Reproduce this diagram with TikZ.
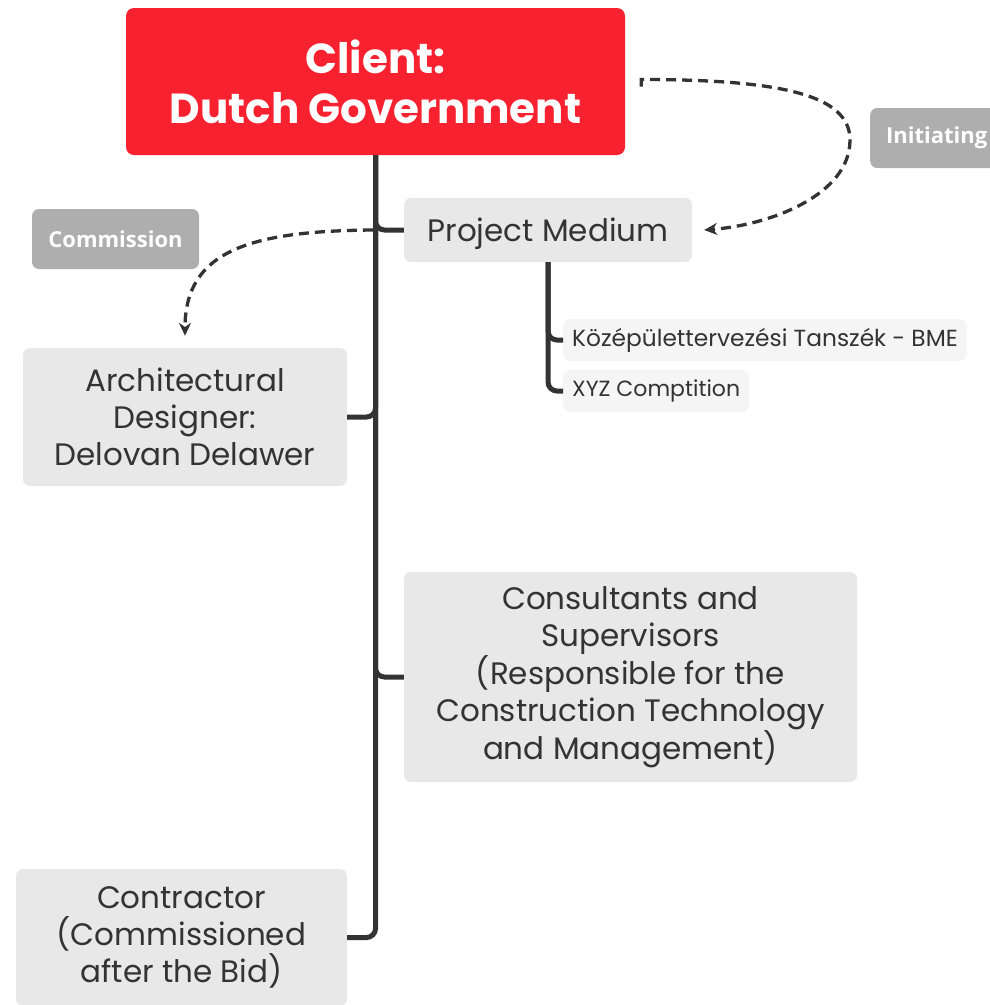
\documentclass[tikz,border=0pt]{standalone}
\usepackage{fontspec}
\setmainfont{Poppins}
\newfontfamily\lblfont{Open Sans}
\usetikzlibrary{arrows.meta,calc}
\definecolor{clientred}{RGB}{247,33,47}
\definecolor{boxgray}{RGB}{232,232,232}
\definecolor{subgray}{RGB}{245,245,245}
\definecolor{lblgray}{RGB}{174,174,174}
\definecolor{linedark}{RGB}{51,51,51}
\definecolor{textdark}{RGB}{51,51,51}
\tikzset{
  mainbox/.style={fill=boxgray, rounded corners=7pt, text=textdark, align=center, inner sep=0pt,
    font=\fontsize{31}{37}\selectfont},
  subbox/.style={fill=subgray, rounded corners=7pt, text=textdark, anchor=west, inner xsep=9pt, inner ysep=0pt,
    minimum height=42pt, font=\fontsize{23.3}{26}\selectfont},
  lblbox/.style={fill=lblgray, rounded corners=7pt, text=white, inner xsep=16pt, inner ysep=0pt,
    minimum height=60pt, font=\lblfont\bfseries\fontsize{22}{26}\selectfont},
  trunk/.style={draw=linedark, line width=5pt, rounded corners=9pt},
  dasharrow/.style={draw=linedark, line width=3.3pt, dash pattern=on 10pt off 6pt,
    -{Stealth[length=13pt,width=12pt]}}
}
\begin{document}
\begin{tikzpicture}[x=1pt,y=-1pt]
\useasboundingbox (0,0) rectangle (989,1005);
% nodes
\node[fill=clientred, rounded corners=8pt, text=white, align=center, inner sep=0pt,
  minimum width=499pt, minimum height=147pt, font=\bfseries\fontsize{42}{50}\selectfont]
  (client) at (375.5,81.5) {Client:\\Dutch Government};
\node[mainbox, minimum width=288pt, minimum height=64pt, text depth=0pt] (pm) at (548,230) {Project Medium};
\node[mainbox, minimum width=324pt, minimum height=138pt] (arch) at (185,417) {Architectural\\Designer:\\Delovan Delawer};
\node[mainbox, minimum width=453pt, minimum height=210pt] (cons) at (630.5,677) {Consultants and\\Supervisors\\(Responsible for the\\Construction Technology\\and Management)};
\node[mainbox, minimum width=331pt, minimum height=137pt] (contr) at (181.5,937.5) {Contractor\\(Commissioned\\after the Bid)};
\node[subbox] (kozep) at (563,340) {Középülettervezési Tanszék - BME};
\node[subbox, font=\fontsize{22}{26}\selectfont] (xyz) at (563,391) {XYZ Comptition};
\node[lblbox, anchor=west] (initl) at (870,138) {Initiating};
\node[lblbox, minimum width=167pt] (comml) at (115.5,239) {Commission};
% trunk connectors
\draw[trunk] (client.south) |- (pm.west);
\draw[trunk] (client.south) |- (arch.east);
\draw[trunk] (client.south) |- (cons.west);
\draw[trunk] (client.south) |- (contr.east);
\draw[trunk] (pm.south) |- (kozep.west);
\draw[trunk] (pm.south) |- (xyz.west);
% dashed arrows
\coordinate (iniS) at ($(client.east)+(16,-2)$);
\coordinate (iniE) at ($(pm.east)+(12,0)$);
\coordinate (comS) at ($(pm.west)+(-31,0)$);
\coordinate (comE) at ($(arch.north)+(0,-12)$);
\draw[dasharrow] ($(iniS)+(0,7)$) -- (iniS) .. controls ($(iniS)+(140,0)$) and (850,95) .. (850,140)
  .. controls (850,195) and (770,225) .. (iniE);
\draw[dasharrow] (comS) .. controls (250,231) and ($(comE)+(0,-85)$) .. (comE);
\end{tikzpicture}
\end{document}
